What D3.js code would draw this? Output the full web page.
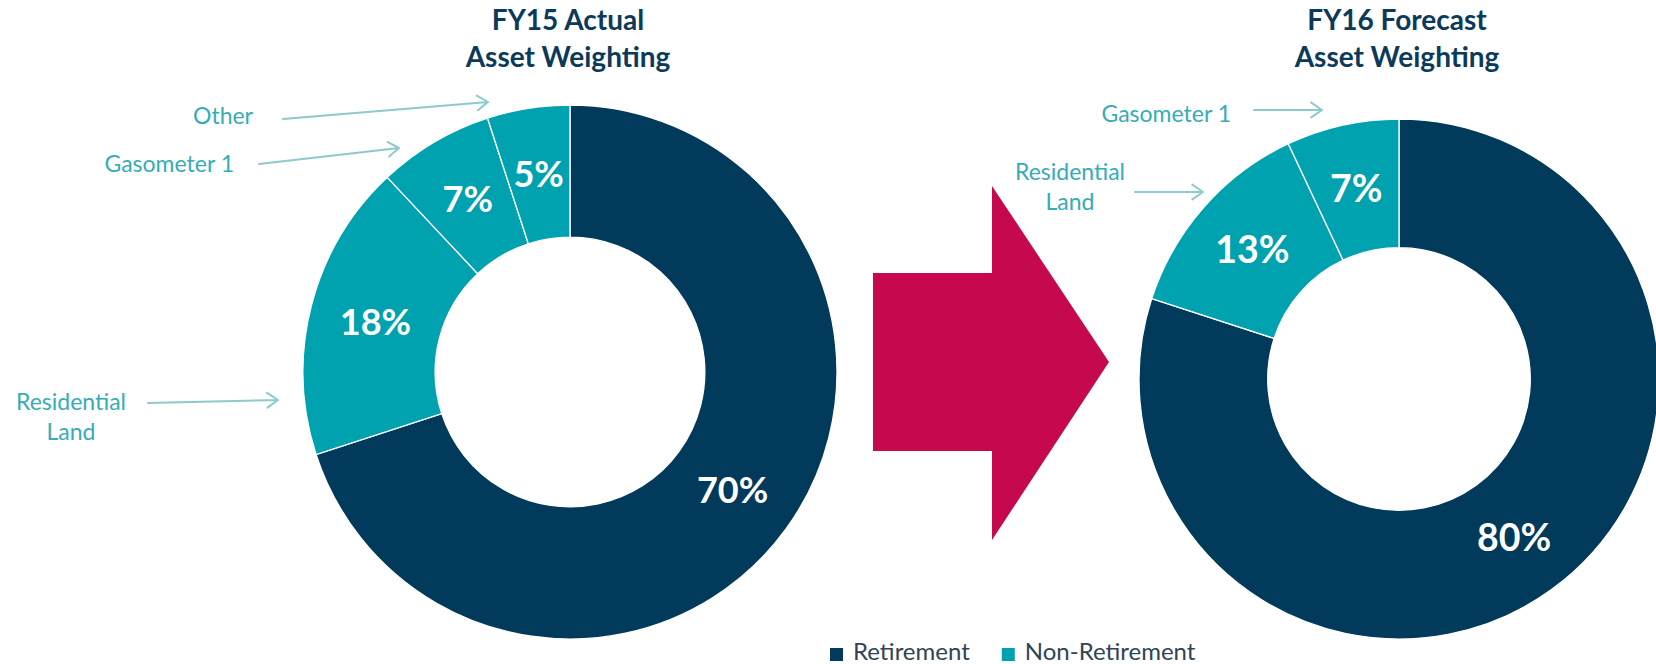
<!DOCTYPE html>
<html>
<head>
<meta charset="utf-8">
<script src="https://cdn.jsdelivr.net/npm/d3@7"></script>
<style>
  body { margin:0; background:#fff; }
  svg { display:block; font-family: Lato, "Open Sans", sans-serif; }
</style>
</head>
<body>
<svg width="1656" height="664"></svg>
<script>
var FY15_TITLE = ["FY15 Actual", "Asset Weighting"];
var FY16_TITLE = ["FY16 Forecast", "Asset Weighting"];

var FY15_NAMES = ["Retirement", "Residential Land", "Gasometer 1", "Other"];
var FY15_VALUES = [70, 18, 7, 5];
var FY15_GROUP = ["Retirement", "Non-Retirement", "Non-Retirement", "Non-Retirement"];

var FY16_NAMES = ["Retirement", "Residential Land", "Gasometer 1"];
var FY16_VALUES = [80, 13, 7];
var FY16_GROUP = ["Retirement", "Non-Retirement", "Non-Retirement"];

var LEGEND_KEYS = ["Retirement", "Non-Retirement"];

var NAVY = "#023a5b", TEAL = "#00a2b0", LABEL_TEAL = "#36acb7", ARROW_TEAL = "#8ccacd";
var color = d3.scaleOrdinal().domain(LEGEND_KEYS).range([NAVY, TEAL]);

var svg = d3.select("svg");

// callout labels -- lines of text + where the little arrow goes
var FY15_CALLOUTS = [
	{name: "Other", lines: ["Other"], x: 253, y: 124, anchor: "end", from: [283, 119], to: [488, 102]},
	{name: "Gasometer 1", lines: ["Gasometer 1"], x: 234, y: 172, anchor: "end", from: [259, 164], to: [399, 148]},
	{name: "Residential Land", lines: ["Residential", "Land"], x: 71, y: 410, anchor: "middle", from: [148, 403], to: [278, 400]}
];
var FY16_CALLOUTS = [
	{name: "Gasometer 1", lines: ["Gasometer 1"], x: 1231, y: 122, anchor: "end", from: [1254, 110], to: [1322, 110]},
	{name: "Residential Land", lines: ["Residential", "Land"], x: 1070, y: 180, anchor: "middle", from: [1135, 192], to: [1203, 192]}
];

drawDonut(FY15_NAMES, FY15_VALUES, FY15_GROUP, {cx: 570, cy: 372, r: 267, title: FY15_TITLE, fs: 36, callouts: FY15_CALLOUTS});
drawDonut(FY16_NAMES, FY16_VALUES, FY16_GROUP, {cx: 1399, cy: 379, r: 260, title: FY16_TITLE, fs: 37.5, callouts: FY16_CALLOUTS});
drawBigArrow();
drawLegend();

function drawDonut(names, values, groups, opt) {
	var data = names.map(function(n, i) { return {name: n, value: values[i], group: groups[i]}; });

	var pie = d3.pie().sort(null).value(function(d) { return d.value; });
	var arc = d3.arc().innerRadius(opt.r * 0.505).outerRadius(opt.r);
	var labelArc = d3.arc().innerRadius(opt.r * 0.7525).outerRadius(opt.r * 0.7525);

	var g = svg.append("g").attr("transform", "translate(" + opt.cx + "," + opt.cy + ")");

	g.selectAll("path")
		.data(pie(data))
		.enter().append("path")
		.attr("d", arc)
		.attr("fill", function(d) { return color(d.data.group); })
		.attr("stroke", "#fff")
		.attr("stroke-width", 1.3);

	g.selectAll("text.pct")
		.data(pie(data))
		.enter().append("text")
		.attr("class", "pct")
		.attr("transform", function(d) { return "translate(" + labelArc.centroid(d) + ")"; })
		.attr("text-anchor", "middle")
		.attr("dy", "0.36em")
		.attr("fill", "#fff")
		.attr("font-weight", 700)
		.attr("font-size", opt.fs)
		.text(function(d) { return d.data.value + "%"; });

	// title, two lines
	svg.append("g").selectAll("text")
		.data(opt.title)
		.enter().append("text")
		.attr("x", opt.cx - 2)
		.attr("y", function(d, i) { return 30 + i * 37; })
		.attr("text-anchor", "middle")
		.attr("font-weight", 700)
		.attr("font-size", 28)
		.attr("fill", "#0b3a5b")
		.text(function(d) { return d; });

	opt.callouts.forEach(function(c) {
		var t = svg.append("text")
			.attr("x", c.x).attr("y", c.y)
			.attr("text-anchor", c.anchor)
			.attr("font-size", 23)
			.attr("fill", LABEL_TEAL);
		c.lines.forEach(function(l, i) {
			t.append("tspan").attr("x", c.x).attr("y", c.y + i * 30).text(l);
		});
		drawCalloutArrow(c.from, c.to);
	});
}

function drawCalloutArrow(from, to) {
	var ang = Math.atan2(to[1] - from[1], to[0] - from[0]);
	var len = 13, spread = 0.6;
	var a1 = [to[0] - len * Math.cos(ang - spread), to[1] - len * Math.sin(ang - spread)];
	var a2 = [to[0] - len * Math.cos(ang + spread), to[1] - len * Math.sin(ang + spread)];
	var p = d3.path();
	p.moveTo(from[0], from[1]); p.lineTo(to[0], to[1]);
	p.moveTo(a1[0], a1[1]); p.lineTo(to[0], to[1]); p.lineTo(a2[0], a2[1]);
	svg.append("path")
		.attr("d", p.toString())
		.attr("fill", "none")
		.attr("stroke", ARROW_TEAL)
		.attr("stroke-width", 2)
		.attr("stroke-linecap", "round")
		.attr("stroke-linejoin", "round");
}

function drawBigArrow() {
	// the crimson block arrow between the two donuts
	var pts = [[873, 273], [992, 273], [992, 186], [1109, 362], [992, 540], [992, 451], [873, 451]];
	svg.append("path")
		.attr("d", d3.line()(pts) + "Z")
		.attr("fill", "#c6094f");
}

function drawLegend() {
	var lg = svg.append("g").attr("transform", "translate(830,660)");
	var x = 0;
	LEGEND_KEYS.forEach(function(k) {
		lg.append("rect")
			.attr("x", x).attr("y", -12)
			.attr("width", 13).attr("height", 13)
			.attr("fill", color(k));
		var t = lg.append("text")
			.attr("x", x + 23).attr("y", 0)
			.attr("font-size", 24)
			.attr("fill", "#2f4457")
			.text(k);
		x += 23 + t.node().getComputedTextLength() + 32;
	});
}
</script>
</body>
</html>
